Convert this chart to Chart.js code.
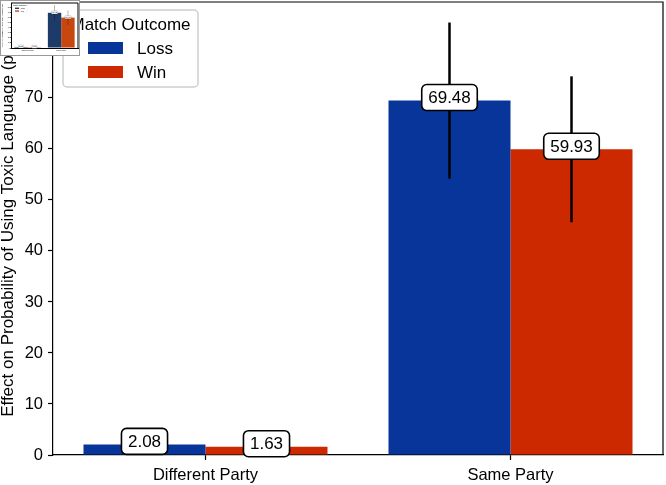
<!DOCTYPE html>
<html>
<head>
<meta charset="utf-8">
<script src="https://cdn.jsdelivr.net/npm/chart.js@4.4.1/dist/chart.umd.min.js"></script>
<style>
  html, body { margin: 0; padding: 0; background: #fff; }
  #wrap { position: relative; width: 666px; height: 485px; overflow: hidden; }
  #mainChart { position: absolute; left: 0; top: 0; }
  #thumb { position: absolute; left: 0; top: 0; width: 78px; height: 54px; border: 1px solid #9a9a9a; background: #fff; }
  #thumbChart { display: block; }
</style>
</head>
<body>
<div id="wrap">
  <canvas id="mainChart" width="666" height="485"></canvas>
  <div id="thumb"><canvas id="thumbChart" width="78" height="54"></canvas></div>
</div>
<script>
// data
const categories = ['Different Party', 'Same Party'];
const seriesNames = ['Loss', 'Win'];
const lossValues = [2.08, 69.48];
const winValues = [1.63, 59.93];
const lossErrors = [0.5, 15.3];
const winErrors = [0.4, 14.3];
const yTicks = [0, 10, 20, 30, 40, 50, 60, 70, 80];
const yMax = 88.8;
const legendTitle = 'Match Outcome';
const yTitle = 'Effect on Probability of Using Toxic Language (pp)';

const FONT = '"Liberation Sans", Arial, Helvetica, sans-serif';
Chart.defaults.font.family = FONT;

function roundRect(ctx, x, y, w, h, r) {
  ctx.beginPath();
  ctx.moveTo(x + r, y);
  ctx.lineTo(x + w - r, y);
  ctx.arcTo(x + w, y, x + w, y + r, r);
  ctx.lineTo(x + w, y + h - r);
  ctx.arcTo(x + w, y + h, x + w - r, y + h, r);
  ctx.lineTo(x + r, y + h);
  ctx.arcTo(x, y + h, x, y + h - r, r);
  ctx.lineTo(x, y + r);
  ctx.arcTo(x, y, x + r, y, r);
  ctx.closePath();
}

function makeChart(canvas, k, colors, box) {
  const errors = [lossErrors, winErrors];

  // error bars + value boxes on top of the bars
  const barExtras = {
    id: 'barExtras',
    afterDatasetsDraw(chart) {
      const ctx = chart.ctx;
      const y = chart.scales.y;
      ctx.save();
      ctx.strokeStyle = '#000';
      ctx.lineWidth = 2.5 * k;
      chart.data.datasets.forEach((ds, i) => {
        chart.getDatasetMeta(i).data.forEach((bar, j) => {
          const v = ds.data[j], e = errors[i][j];
          ctx.beginPath();
          ctx.moveTo(bar.x, y.getPixelForValue(v - e));
          ctx.lineTo(bar.x, y.getPixelForValue(v + e));
          ctx.stroke();
        });
      });
      ctx.font = (17 * k) + 'px ' + FONT;
      ctx.textAlign = 'center';
      ctx.textBaseline = 'middle';
      chart.data.datasets.forEach((ds, i) => {
        chart.getDatasetMeta(i).data.forEach((bar, j) => {
          const txt = ds.data[j].toFixed(2);
          const w = ctx.measureText(txt).width + 13 * k;
          const h = 26 * k;
          const cx = bar.x, cy = bar.y - 3 * k;
          roundRect(ctx, cx - w / 2, cy - h / 2, w, h, 5 * k);
          ctx.fillStyle = '#fff';
          ctx.fill();
          ctx.lineWidth = 1.6 * k;
          ctx.strokeStyle = '#000';
          ctx.stroke();
          ctx.fillStyle = '#000';
          ctx.fillText(txt, cx, cy + 1 * k);
        });
      });
      ctx.restore();
    },
    afterDraw(chart) {
      const ctx = chart.ctx;
      const a = chart.chartArea;
      ctx.save();
      // top and right spines
      ctx.strokeStyle = '#000';
      ctx.lineWidth = Math.max(1, 1.2 * k);
      ctx.beginPath();
      ctx.moveTo(a.left, a.top);
      ctx.lineTo(a.right, a.top);
      ctx.lineTo(a.right, a.bottom);
      ctx.stroke();

      // legend
      const lx = a.left + 10 * k, ly = a.top + 8 * k;
      const lw = 135 * k, lh = 77 * k;
      roundRect(ctx, lx, ly, lw, lh, 4 * k);
      ctx.fillStyle = 'rgba(255,255,255,0.85)';
      ctx.fill();
      ctx.strokeStyle = '#c9d0d0';
      ctx.lineWidth = 1.5 * k;
      ctx.stroke();
      ctx.fillStyle = '#000';
      ctx.textBaseline = 'middle';
      ctx.textAlign = 'center';
      ctx.font = (17 * k) + 'px ' + FONT;
      ctx.fillText(legendTitle, lx + lw / 2, ly + 15 * k);
      ctx.textAlign = 'left';
      chart.data.datasets.forEach((ds, i) => {
        const cy = ly + (38 + 24 * i) * k;
        ctx.fillStyle = ds.backgroundColor;
        ctx.fillRect(lx + 25 * k, cy - 6 * k, 35 * k, 12 * k);
        ctx.fillStyle = '#000';
        ctx.fillText(ds.label, lx + 74 * k, cy + 1 * k);
      });
      ctx.restore();
    }
  };

  const axisGrid = {
    display: true,
    drawOnChartArea: false,
    drawTicks: true,
    offset: false,
    tickLength: 5 * k,
    tickColor: '#000',
    tickWidth: Math.max(1, 1.2 * k)
  };

  return new Chart(canvas, {
    type: 'bar',
    data: {
      labels: categories,
      datasets: [
        { label: seriesNames[0], data: lossValues, backgroundColor: colors[0], borderWidth: 0 },
        { label: seriesNames[1], data: winValues, backgroundColor: colors[1], borderWidth: 0 }
      ]
    },
    options: {
      responsive: false,
      animation: false,
      devicePixelRatio: 1,
      layout: { padding: { top: box.top, right: box.right, left: 0, bottom: 0 } },
      plugins: { legend: { display: false }, tooltip: { enabled: false } },
      datasets: { bar: { categoryPercentage: 0.8, barPercentage: 1.0 } },
      scales: {
        x: {
          grid: axisGrid,
          border: { display: true, color: '#000', width: Math.max(1, 1.2 * k) },
          ticks: { color: '#000', font: { size: 16.5 * k }, padding: 6 * k, maxRotation: 0 },
          afterFit: s => {
            s.height = box.xHeight;
            s.paddingLeft = 0;
            s.paddingRight = 0;
          }
        },
        y: {
          min: 0,
          max: yMax,
          afterBuildTicks: s => { s.ticks = yTicks.map(v => ({ value: v })); },
          grid: axisGrid,
          border: { display: true, color: '#000', width: Math.max(1, 1.2 * k) },
          ticks: { color: '#000', font: { size: 16.5 * k }, padding: 5 * k },
          title: {
            display: true,
            text: yTitle,
            color: '#000',
            font: { size: 17 * k, lineHeight: 1 },
            padding: { top: 0, bottom: 0 }
          },
          afterFit: s => {
            s.width = box.yWidth;
            s.paddingTop = 0;
            s.paddingBottom = 0;
          }
        }
      }
    },
    plugins: [barExtras]
  });
}

makeChart(document.getElementById('mainChart'), 1, ['#083599', '#cc2900'],
  { top: 2, right: 3, xHeight: 30, yWidth: 53 });

// the small thumbnail of the figure sitting in the top-left corner
makeChart(document.getElementById('thumbChart'), 0.115, ['#1d3b69', '#c8470f'],
  { top: 2, right: 1, xHeight: 7, yWidth: 10 });
</script>
</body>
</html>
